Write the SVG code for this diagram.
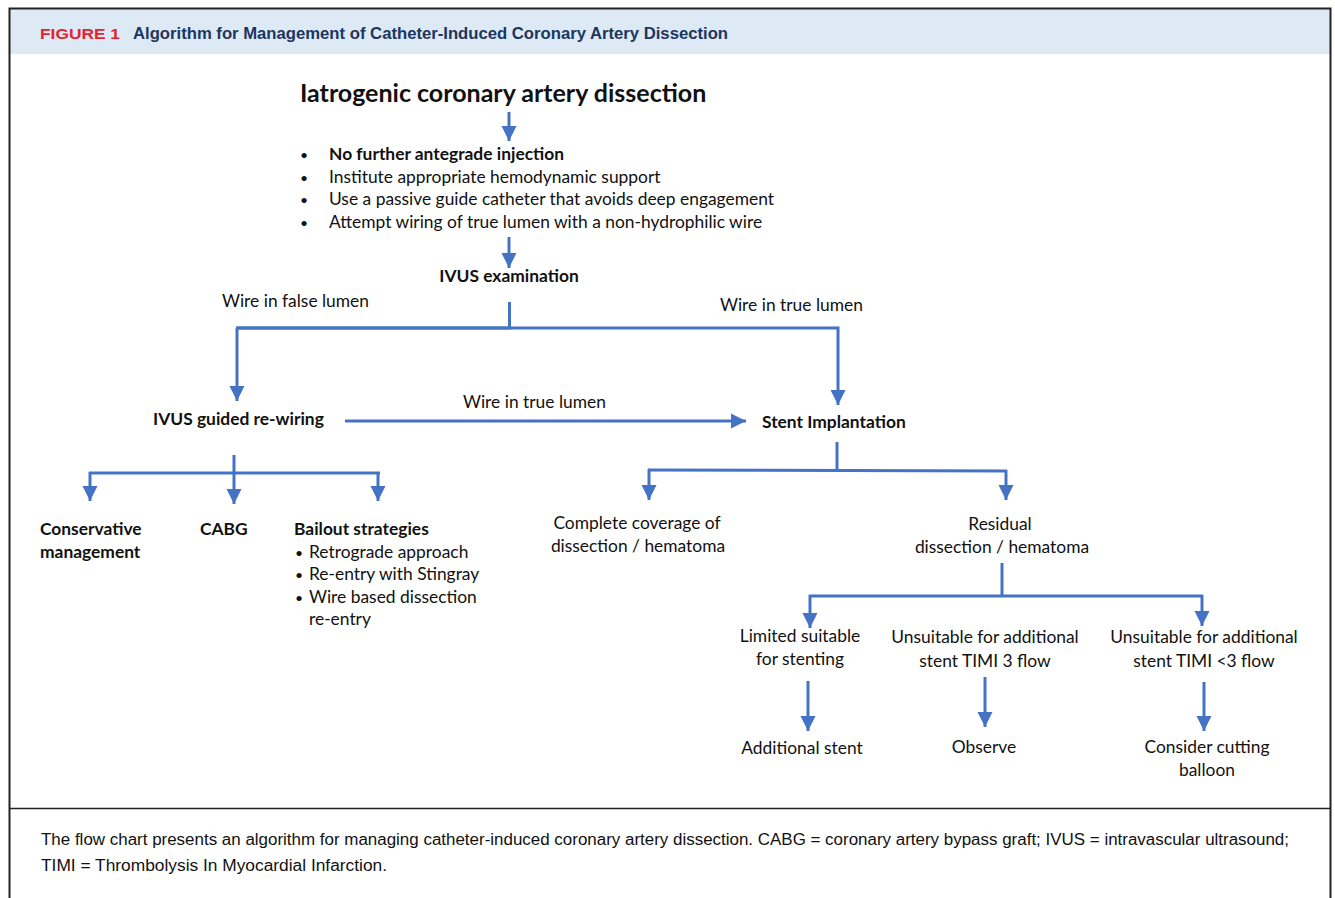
<svg xmlns="http://www.w3.org/2000/svg" width="1335" height="898" viewBox="0 0 1335 898">
<defs>
<marker id="ah" markerUnits="userSpaceOnUse" markerWidth="16" markerHeight="16" viewBox="0 0 16 16" refX="15" refY="8" orient="auto">
<path d="M0,0.5 L15,8 L0,15.5 z" fill="#4472C4"/>
</marker>
<style>
.t{font-family:Lato,"Open Sans","Liberation Sans",sans-serif;font-size:17.4px;fill:#111;}
.b{font-weight:bold;}
.c{text-anchor:middle;}
.bu{font-size:14px;}
.ln{fill:none;stroke:#4472C4;stroke-width:3;}
.ar{fill:none;stroke:#4472C4;stroke-width:3;marker-end:url(#ah);}
.cap{font-family:"Liberation Sans",Arial,sans-serif;font-size:16px;fill:#111;}
</style>
</defs>
<rect x="0" y="0" width="1335" height="898" fill="#ffffff"/>
<rect x="10" y="9" width="1320" height="45" fill="#dde9f5"/>
<path d="M9.5,905 V8.5 H1330.5 V905" fill="none" stroke="#222" stroke-width="2"/>
<line x1="10" y1="808.5" x2="1331" y2="808.5" stroke="#222" stroke-width="1.5"/>
<g id="header">
<text x="40" y="39" font-family="'Liberation Sans',Arial,sans-serif" font-size="14.5" font-weight="bold" fill="#e52330" textLength="80" lengthAdjust="spacingAndGlyphs">FIGURE 1</text>
<text x="133" y="39" font-family="'Liberation Sans',Arial,sans-serif" font-size="16.5" font-weight="bold" fill="#1b365f" textLength="595" lengthAdjust="spacingAndGlyphs">Algorithm for Management of Catheter-Induced Coronary Artery Dissection</text>
</g>
<g id="connectors">
<line class="ar" x1="509" y1="112" x2="509" y2="141"/>
<line class="ar" x1="509" y1="237" x2="509" y2="268"/>
<polyline class="ln" points="509.5,302 509.5,328 237,328"/>
<polyline class="ar" points="236,328 838,328 838,405"/>
<line class="ar" x1="237" y1="328" x2="237" y2="401"/>
<line class="ar" x1="345" y1="421" x2="746" y2="421"/>
<line class="ln" x1="234" y1="455" x2="234" y2="473"/>
<line class="ln" x1="89" y1="473" x2="380" y2="473"/>
<line class="ar" x1="90" y1="472" x2="90" y2="501"/>
<line class="ar" x1="234" y1="472" x2="234" y2="504"/>
<line class="ar" x1="378" y1="472" x2="378" y2="501"/>
<line class="ln" x1="837" y1="442" x2="837" y2="470"/>
<line class="ln" x1="648" y1="470" x2="1007" y2="471"/>
<line class="ar" x1="649" y1="469" x2="649" y2="500"/>
<line class="ar" x1="1006" y1="470" x2="1006" y2="500"/>
<line class="ln" x1="1002" y1="563" x2="1002" y2="596"/>
<line class="ln" x1="809" y1="596" x2="1203" y2="596"/>
<line class="ar" x1="810" y1="595" x2="810" y2="628"/>
<line class="ar" x1="1202" y1="595" x2="1202" y2="626"/>
<line class="ar" x1="808" y1="681" x2="808" y2="731"/>
<line class="ar" x1="985" y1="677" x2="985" y2="727"/>
<line class="ar" x1="1204" y1="682" x2="1204" y2="731"/>
</g>
<g id="n-title"><text class="t b" x="300" y="102" style="font-size:25px">Iatrogenic coronary artery dissection</text></g>
<g id="n-steps">
<text class="t bu" x="300" y="160">•</text><text class="t b" x="329" y="160">No further antegrade injection</text>
<text class="t bu" x="300" y="183">•</text><text class="t" x="329" y="183">Institute appropriate hemodynamic support</text>
<text class="t bu" x="300" y="205">•</text><text class="t" x="329" y="205">Use a passive guide catheter that avoids deep engagement</text>
<text class="t bu" x="300" y="228">•</text><text class="t" x="329" y="228">Attempt wiring of true lumen with a non-hydrophilic wire</text>
</g>
<g id="n-ivus"><text class="t b c" x="509" y="282">IVUS examination</text></g>
<g id="l-false"><text class="t" x="222" y="307">Wire in false lumen</text></g>
<g id="l-true1"><text class="t" x="720" y="311">Wire in true lumen</text></g>
<g id="n-rewire"><text class="t b" x="153" y="425">IVUS guided re-wiring</text></g>
<g id="l-true2"><text class="t" x="463" y="408">Wire in true lumen</text></g>
<g id="n-stent"><text class="t b" x="762" y="428">Stent Implantation</text></g>
<g id="n-conservative"><text class="t b" x="40" y="535">Conservative</text><text class="t b" x="40" y="558">management</text></g>
<g id="n-cabg"><text class="t b" x="200" y="535">CABG</text></g>
<g id="n-bailout">
<text class="t b" x="294" y="535">Bailout strategies</text>
<text class="t bu" x="295" y="558">•</text><text class="t" x="309" y="558">Retrograde approach</text>
<text class="t bu" x="295" y="580">•</text><text class="t" x="309" y="580">Re-entry with Stingray</text>
<text class="t bu" x="295" y="603">•</text><text class="t" x="309" y="603">Wire based dissection</text>
<text class="t" x="309" y="625">re-entry</text>
</g>
<g id="n-complete"><text class="t c" x="637" y="529">Complete coverage of</text><text class="t c" x="638" y="552">dissection / hematoma</text></g>
<g id="n-residual"><text class="t c" x="1000" y="530">Residual</text><text class="t c" x="1002" y="553">dissection / hematoma</text></g>
<g id="n-limited"><text class="t c" x="800" y="642">Limited suitable</text><text class="t c" x="800" y="665">for stenting</text></g>
<g id="n-unsuit3"><text class="t c" x="985" y="643">Unsuitable for additional</text><text class="t c" x="985" y="667">stent TIMI 3 flow</text></g>
<g id="n-unsuit-lt3"><text class="t c" x="1204" y="643">Unsuitable for additional</text><text class="t c" x="1204" y="667">stent TIMI &lt;3 flow</text></g>
<g id="n-additional"><text class="t c" x="802" y="754">Additional stent</text></g>
<g id="n-observe"><text class="t c" x="984" y="753">Observe</text></g>
<g id="n-cutting"><text class="t c" x="1207" y="753">Consider cutting</text><text class="t c" x="1207" y="776">balloon</text></g>
<g id="caption">
<text class="cap" x="41" y="845" textLength="1248" lengthAdjust="spacingAndGlyphs">The flow chart presents an algorithm for managing catheter-induced coronary artery dissection. CABG = coronary artery bypass graft; IVUS = intravascular ultrasound;</text>
<text class="cap" x="41" y="871" textLength="346" lengthAdjust="spacingAndGlyphs">TIMI = Thrombolysis In Myocardial Infarction.</text>
</g>
</svg>
